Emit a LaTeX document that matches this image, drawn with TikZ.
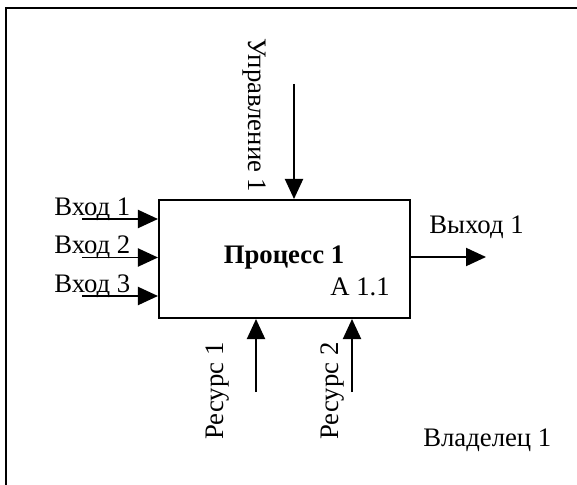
\documentclass[tikz,border=0pt]{standalone}
\usepackage{fontspec}
\setmainfont{Liberation Serif}
\usetikzlibrary{arrows.meta}

\begin{document}
\begin{tikzpicture}[x=0.025cm, y=-0.025cm,
  every node/.style={font=\fontsize{19}{22}\selectfont, inner sep=0pt},
  flow/.style={line width=1.4pt, -{Triangle[length=0.5cm, width=0.45cm]}}]

\useasboundingbox (0,0) rectangle (577,485);

% Frame
\draw[line width=1.6pt] (6,485) -- (6,8) -- (577,8);

% Process box
\node[draw, line width=1.4pt, minimum width=6.275cm, minimum height=2.95cm] (proc) at (284.5,259) {};
\node[anchor=base, font=\fontsize{19}{22}\selectfont\bfseries] (name) at (284,263) {Процесс 1};
\node[anchor=base west] (num) at (330,295) {А 1.1};

% Inputs
\coordinate (in1) at (82,219);
\coordinate (in2) at (82,257.5);
\coordinate (in3) at (82,296);
\draw[flow] (in1) -- (in1 -| proc.west);
\draw[flow] (in2) -- (in2 -| proc.west);
\draw[flow] (in3) -- (in3 -| proc.west);
\node[anchor=base west] (lin1) at (54,215) {Вход 1};
\node[anchor=base west] (lin2) at (54,253.5) {Вход 2};
\node[anchor=base west] (lin3) at (54,292) {Вход 3};

% Control
\coordinate (ctl) at (294,84);
\draw[flow] (ctl) -- (ctl |- proc.north);
\node[rotate=-90, anchor=base west] (lctl) at (248,38) {Управление 1};

% Output
\coordinate (out) at (486,257);
\draw[flow] (out -| proc.east) -- (out);
\node[anchor=base west] (lout) at (429,233) {Выход 1};

% Resources
\coordinate (res1) at (256,392);
\coordinate (res2) at (352,392);
\draw[flow] (res1) -- (res1 |- proc.south);
\draw[flow] (res2) -- (res2 |- proc.south);
\node[rotate=90, anchor=base west] (lres1) at (223,440) {Ресурс 1};
\node[rotate=90, anchor=base west] (lres2) at (338,440) {Ресурс 2};

% Owner
\node[anchor=base west] (owner) at (423,446) {Владелец 1};

\end{tikzpicture}
\end{document}
